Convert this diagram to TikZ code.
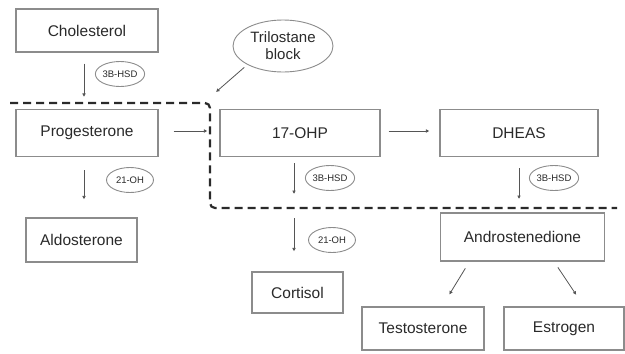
\documentclass[tikz,border=0pt]{standalone}
\usepackage{fontspec}
\setmainfont{Liberation Sans}
\usetikzlibrary{shapes.geometric,arrows.meta,calc}
\definecolor{boxline}{HTML}{8C8C8C}
\definecolor{ink}{HTML}{2A2A2A}
\definecolor{arrowc}{HTML}{555555}
\begin{document}
\begin{tikzpicture}[x=1pt,y=-1pt,
  stepbox/.style={draw=boxline, line width=1.1pt, rectangle, inner sep=0pt,
    text=ink, font=\fontsize{15.5}{18}\selectfont},
  enz/.style={draw=boxline, line width=0.9pt, ellipse, inner sep=0pt,
    minimum width=47pt, minimum height=25pt, text=ink,
    font=\fontsize{9.5}{11}\selectfont},
  arr/.style={draw=arrowc, line width=0.8pt, -{Latex[length=3.5pt,width=3.8pt]}},
  block/.style={draw=ink, line width=2.2pt, dash pattern=on 8pt off 5pt}]
\useasboundingbox (0,0) rectangle (625,354);
\fill[white] (0,0) rectangle (625,354);

% pathway boxes
\node[stepbox, minimum width=142pt, minimum height=43pt] (chol) at (87,30.5) {Cholesterol};
\node[stepbox, minimum width=142pt, minimum height=47pt] (prog) at (87,133) {Progesterone};
\node[stepbox, minimum width=160pt, minimum height=47pt] (ohp) at (300,133) {17-OHP};
\node[stepbox, minimum width=158pt, minimum height=47pt] (dheas) at (519,133) {DHEAS};
\node[stepbox, minimum width=111pt, minimum height=44pt] (aldo) at (81.5,240) {Aldosterone};
\node[stepbox, minimum width=91pt, minimum height=41pt] (cort) at (297.5,292.5) {Cortisol};
\node[stepbox, minimum width=164pt, minimum height=48pt] (andro) at (522.5,237) {Androstenedione};
\node[stepbox, minimum width=122pt, minimum height=43pt] (testo) at (423,328.5) {Testosterone};
\node[stepbox, minimum width=120pt, minimum height=43pt] (estro) at (564,328.5) {Estrogen};

% enzymes
\node[enz] (e1) at (120,74) {3B-HSD};
\node[enz] (e2) at (130,180) {21-OH};
\node[enz] (e3) at (330,178) {3B-HSD};
\node[enz] (e4) at (554,178) {3B-HSD};
\node[enz] (e5) at (332,240) {21-OH};
\node[draw=boxline, line width=0.9pt, ellipse, inner sep=0pt, minimum width=100pt,
  minimum height=52pt, text=ink, align=center, font=\fontsize{15}{17}\selectfont]
  (trilo) at (283,46) {Trilostane\\block};

% block boundary
\coordinate (d1) at (10,103);
\coordinate (d2) at (210,103);
\coordinate (d3) at (210,208);
\coordinate (d4) at (617,208);
\coordinate (tb) at (216,92);
\draw[block, rounded corners=5pt] (d1) -- (d2) -- (d3) -- (d4);

% reactions
\draw[arr, shorten <=11pt, shorten >=12pt] ([xshift=-3pt]chol.south) -- ([xshift=-3pt]prog.north);
\draw[arr, shorten <=15pt, shorten >=12pt] ([yshift=2pt]prog.east) -- ([yshift=2pt]ohp.west);
\draw[arr, shorten <=8pt, shorten >=10pt] ([yshift=2pt]ohp.east) -- ([yshift=2pt]dheas.west);
\draw[arr, shorten <=4pt] (trilo.south west) -- (tb);
\draw[arr, shorten <=13pt, shorten >=18pt] ([xshift=-3pt]prog.south) -- ([xshift=-3pt]prog.south |- aldo.north);
\draw[arr, shorten <=6pt, shorten >=14pt] ([xshift=-6pt]ohp.south) -- ([xshift=-6pt]ohp.south |- d3);
\draw[arr, shorten <=10pt, shorten >=20pt] ([xshift=-6pt]ohp.south |- d3) -- ([xshift=-6pt]ohp.south |- cort.north);
\draw[arr, shorten <=11pt, shorten >=9pt] (dheas.south) -- (dheas.south |- d3);
\draw[arr, shorten <=8pt, shorten >=14pt] ([xshift=-53pt]andro.south) -- ([xshift=19pt]testo.north);
\draw[arr, shorten <=7pt, shorten >=14pt] ([xshift=31.5pt]andro.south) -- ([xshift=20pt]estro.north);
\end{tikzpicture}
\end{document}
